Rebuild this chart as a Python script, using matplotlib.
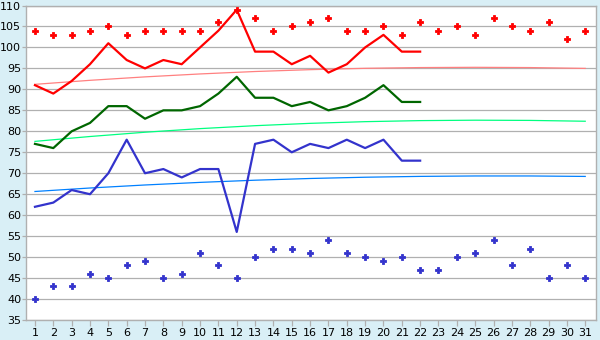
import matplotlib
matplotlib.use("Agg")
import matplotlib.pyplot as plt

days_all = list(range(1, 32))
days_line = list(range(1, 23))

red_line = [91, 89, 92, 96, 101, 97, 95, 97, 96, 100, 104, 109, 99, 99, 96, 98, 94, 96, 100, 103, 99, 99]
green_line = [77, 76, 80, 82, 86, 86, 83, 85, 85, 86, 89, 93, 88, 88, 86, 87, 85, 86, 88, 91, 87, 87]
blue_line = [62, 63, 66, 65, 70, 78, 70, 71, 69, 71, 71, 56, 77, 78, 75, 77, 76, 78, 76, 78, 73, 73]

red_dots = [104, 103, 103, 104, 105, 103, 104, 104, 104, 104, 106, 109, 107, 104, 105, 106, 107,
            104, 104, 105, 103, 106, 104, 105, 103, 107, 105, 104, 106, 102, 104]
blue_dots = [40, 43, 43, 46, 45, 48, 49, 45, 46, 51, 48, 45, 50, 52, 52, 51, 54, 51, 50, 49,
             50, 47, 47, 50, 51, 54, 48, 52, 45, 48, 45]

trend_days = [1, 4, 7, 10, 13, 16, 19, 22, 25, 28, 31]
red_trend = [91.2, 92.16, 92.98, 93.68, 94.26, 94.7, 95.02, 95.2, 95.26, 95.2, 95.0]
green_trend = [77.6, 78.76, 79.78, 80.64, 81.34, 81.9, 82.3, 82.55, 82.65, 82.6, 82.4]
blue_trend = [65.65, 66.48, 67.2, 67.82, 68.34, 68.75, 69.05, 69.25, 69.35, 69.35, 69.24]

y_ticks = list(range(35, 111, 5))

bg = "#d9eff6"
grid_c = "#b0b0b0"

fig = plt.figure(figsize=(6, 3.4), dpi=100, facecolor=bg)
ax = fig.add_axes([0.0433, 0.0588, 0.9492, 0.925])
ax.set_facecolor("white")

ax.set_xlim(0.51, 31.56)
ax.set_ylim(35, 110)
ax.set_yticks(y_ticks)
ax.set_xticks(days_all)
ax.yaxis.grid(True, color=grid_c, linewidth=0.9)
ax.set_axisbelow(True)
for s in ax.spines.values():
    s.set_color(grid_c)
    s.set_linewidth(1.0)
ax.tick_params(axis="both", colors=grid_c, labelcolor="black", labelsize=8, width=0.9)
ax.tick_params(axis="y", length=3, pad=0.5)
ax.tick_params(axis="x", length=4, pad=2)

ax.plot(trend_days, red_trend, color="#ff8080", linewidth=0.9, zorder=2)
ax.plot(trend_days, green_trend, color="#00ff80", linewidth=0.9, zorder=2)
ax.plot(trend_days, blue_trend, color="#0080ff", linewidth=0.9, zorder=2)

ax.plot(days_line, red_line, color="#ff0000", linewidth=1.6, zorder=3)
ax.plot(days_line, green_line, color="#006600", linewidth=1.6, zorder=3)
ax.plot(days_line, blue_line, color="#3333cc", linewidth=1.6, zorder=3)

ax.plot(days_all, red_dots, linestyle="none", marker="P", markersize=4.5,
        color="#ff0000", markeredgecolor="#ff0000", markeredgewidth=0.6, zorder=4)
ax.plot(days_all, blue_dots, linestyle="none", marker="P", markersize=4.5,
        color="#3333cc", markeredgecolor="#3333cc", markeredgewidth=0.6, zorder=4)

fig.savefig("out.png", dpi=100, facecolor=bg)
